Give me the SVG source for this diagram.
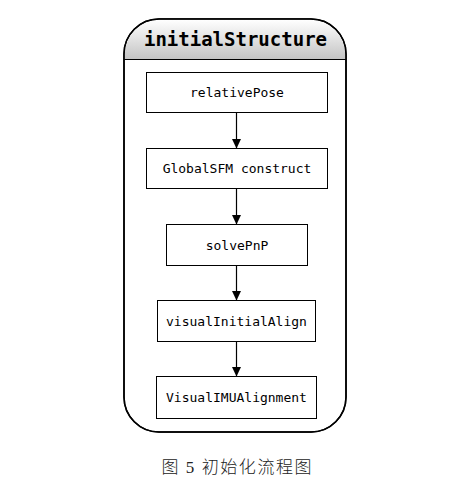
<svg xmlns="http://www.w3.org/2000/svg" width="465" height="486" viewBox="0 0 465 486">
<defs>
<linearGradient id="hdr" x1="0" y1="0" x2="0" y2="1">
<stop offset="0" stop-color="#ffffff"/>
<stop offset="1" stop-color="#c4c4c4"/>
</linearGradient>
<marker id="arr" markerWidth="10" markerHeight="11" refX="9" refY="5" orient="auto" markerUnits="userSpaceOnUse">
<path d="M0,0.5 L9.5,5 L0,9.5 Z" fill="#000"/>
</marker>
<style>
.box{fill:#fff;stroke:#000;stroke-width:1}
.lbl{font-family:"DejaVu Sans Mono","Liberation Mono",monospace;font-size:13px;fill:#000;text-anchor:middle}
.edge{stroke:#000;stroke-width:1.2;fill:none;marker-end:url(#arr)}
</style>
</defs>
<rect width="465" height="486" fill="#fff"/>
<g id="initialStructure">
<rect x="124" y="19" width="222" height="413" rx="35" ry="35" fill="#fff" stroke="#000" stroke-width="1.5"/>
<path d="M124.75,59 V54 A35,35 0 0 1 159,19.75 H311 A35,35 0 0 1 345.25,54 V59 Z" fill="url(#hdr)"/>
<line x1="124" y1="59.5" x2="346" y2="59.5" stroke="#000" stroke-width="1"/>
<rect x="124" y="19" width="222" height="413" rx="35" ry="35" fill="none" stroke="#000" stroke-width="1.5"/>
<text x="235.5" y="46" font-family="DejaVu Sans Mono, Liberation Mono, monospace" font-weight="bold" font-size="19" text-anchor="middle">initialStructure</text>
</g>
<g id="connectors">
<line class="edge" x1="236.5" y1="112.5" x2="236.5" y2="148"/>
<line class="edge" x1="236.5" y1="188.5" x2="236.5" y2="224"/>
<line class="edge" x1="236.5" y1="265.5" x2="236.5" y2="300"/>
<line class="edge" x1="236.5" y1="341.5" x2="236.5" y2="376"/>
</g>
<g id="relativePose">
<rect class="box" x="146.5" y="72.5" width="181" height="40"/>
<text class="lbl" x="237" y="97">relativePose</text>
</g>
<g id="GlobalSFM">
<rect class="box" x="146.5" y="148.5" width="181" height="40"/>
<text class="lbl" x="237" y="173">GlobalSFM construct</text>
</g>
<g id="solvePnP">
<rect class="box" x="166.5" y="224.5" width="141" height="41"/>
<text class="lbl" x="237" y="249.5">solvePnP</text>
</g>
<g id="visualInitialAlign">
<rect class="box" x="157.5" y="300.5" width="158" height="41"/>
<text class="lbl" x="236.5" y="325.5">visualInitialAlign</text>
</g>
<g id="VisualIMUAlignment">
<rect class="box" x="156.5" y="376.5" width="160" height="42"/>
<text class="lbl" x="236.5" y="402">VisualIMUAlignment</text>
</g>
<text x="236.5" y="473" font-family="Liberation Serif, Noto Sans CJK SC, serif" font-size="17" font-weight="300" text-anchor="middle" fill="#222" textLength="150" lengthAdjust="spacing">图 5  初始化流程图</text>
</svg>
